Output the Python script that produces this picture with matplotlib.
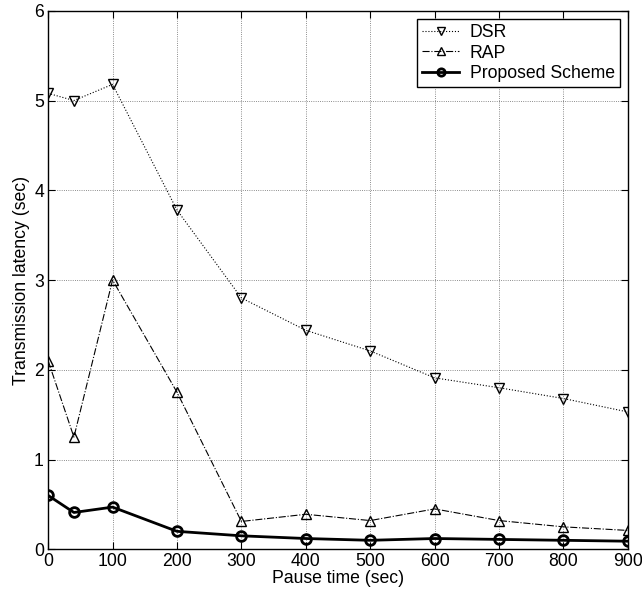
import matplotlib
matplotlib.use('Agg')
import matplotlib.pyplot as plt

# data
pause_time = [0, 40, 100, 200, 300, 400, 500, 600, 700, 800, 900]
dsr = [5.08, 5.00, 5.18, 3.78, 2.80, 2.44, 2.21, 1.91, 1.80, 1.68, 1.53]
rap = [2.10, 1.25, 3.00, 1.75, 0.31, 0.39, 0.32, 0.45, 0.32, 0.25, 0.21]
proposed = [0.60, 0.41, 0.47, 0.20, 0.15, 0.12, 0.10, 0.12, 0.11, 0.10, 0.09]

plt.rcParams['font.family'] = ['Liberation Sans', 'DejaVu Sans']
plt.rcParams['font.size'] = 12.7

fig = plt.figure(figsize=(6.42, 5.99), dpi=100)
ax = fig.add_axes([0.075, 0.083, 0.903, 0.899])

ax.plot(pause_time, dsr, color='black', linestyle=':', linewidth=0.8,
        marker='v', markersize=7.5, markerfacecolor='none', markeredgewidth=1.0, label='DSR')
ax.plot(pause_time, rap, color='black', linestyle='-.', linewidth=0.8,
        marker='^', markersize=7.5, markerfacecolor='none', markeredgewidth=1.0, label='RAP')
ax.plot(pause_time, proposed, color='black', linestyle='-', linewidth=2.0,
        marker='o', markersize=7, markerfacecolor='none', markeredgewidth=2.0, label='Proposed Scheme')

ax.set_xlim(0, 900)
ax.set_ylim(0, 6)
ax.set_xticks(range(0, 1000, 100))
ax.set_yticks(range(0, 7))
ax.grid(True, linestyle=':', color='black', linewidth=0.6, alpha=0.6)
ax.tick_params(direction='in', top=True, right=True, length=5, pad=3)
for s in ax.spines.values():
    s.set_linewidth(1.0)

ax.set_xlabel('Pause time (sec)', labelpad=0)
ax.set_ylabel('Transmission latency (sec)', labelpad=3)

leg = ax.legend(loc='upper right', fancybox=False, edgecolor='black', framealpha=1,
                handlelength=2.1, handletextpad=0.6, markerscale=0.75,
                borderpad=0.3, labelspacing=0.2, borderaxespad=0.45)
leg.get_frame().set_linewidth(1.0)

fig.savefig('out.png', dpi=100)
